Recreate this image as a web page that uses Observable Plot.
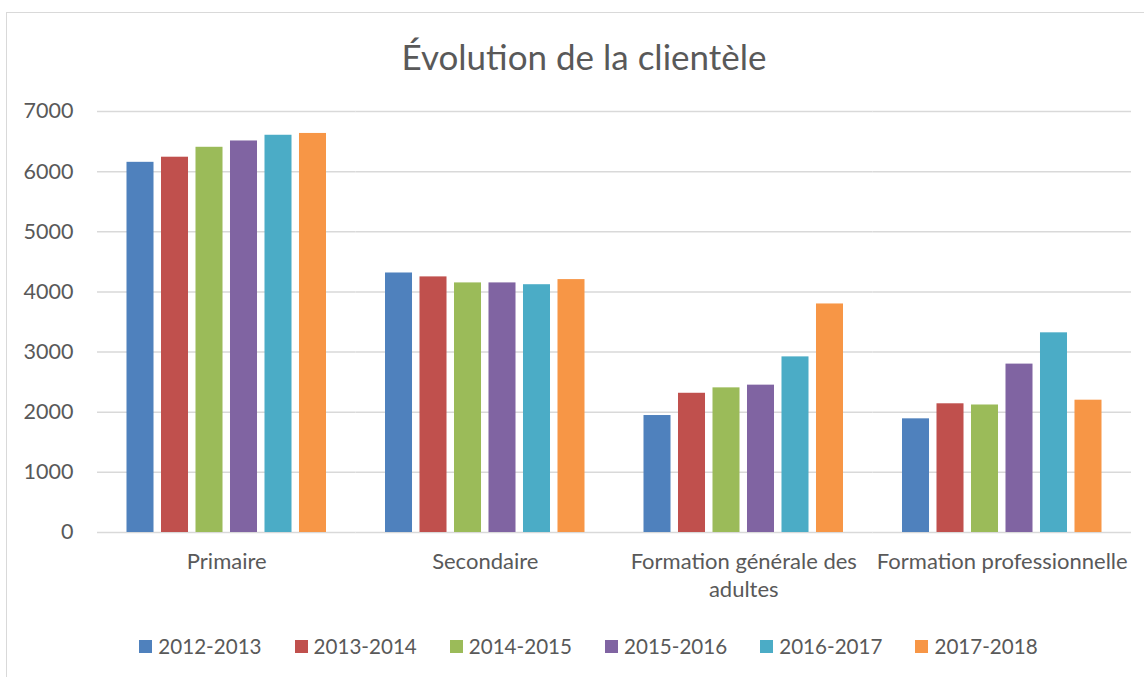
<!DOCTYPE html>
<html><head><meta charset="utf-8">
<script src="https://cdn.jsdelivr.net/npm/d3@7"></script>
<script src="https://cdn.jsdelivr.net/npm/@observablehq/plot@0.6"></script>
<style>
body{margin:0;background:#fff;font-family:Lato,"Noto Sans",sans-serif;color:#595959;width:1144px;height:677px;overflow:hidden;position:relative}
#frame{position:absolute;left:6px;top:12px;width:1200px;height:720px;border:1.5px solid #d9d9d9;box-sizing:border-box}
#title{position:absolute;left:284px;width:600px;top:34px;text-align:center;font-size:35px;line-height:44px;color:#595959}
#chart{position:absolute;left:0;top:0}
#legend{position:absolute;left:0;width:1177px;top:633px;display:flex;justify-content:center;gap:33px;font-size:20.6px;line-height:26px}
.item{display:flex;align-items:center;gap:6px}
.sw{width:13px;height:13px;display:inline-block}
</style></head>
<body>
<div id="frame"></div>
<div id="title">Évolution de la clientèle</div>
<div id="chart"></div>
<div id="legend"></div>
<script>
const categories = ["Primaire","Secondaire","Formation générale des adultes","Formation professionnelle"];
const categoryLabels = ["Primaire","Secondaire","Formation générale des\nadultes","Formation professionnelle"];
const years = ["2012-2013","2013-2014","2014-2015","2015-2016","2016-2017","2017-2018"];
const v2012_2013 = [6155, 4315, 1945, 1890];
const v2013_2014 = [6240, 4250, 2315, 2140];
const v2014_2015 = [6405, 4150, 2405, 2120];
const v2015_2016 = [6510, 4150, 2450, 2800];
const v2016_2017 = [6605, 4120, 2920, 3320];
const v2017_2018 = [6635, 4205, 3800, 2200];
const colors = ["#4F81BD","#C0504D","#9BBB59","#8064A2","#4BACC6","#F79646"];
const yTicks = [0,1000,2000,3000,4000,5000,6000,7000];

const series = [v2012_2013, v2013_2014, v2014_2015, v2015_2016, v2016_2017, v2017_2018];
const data = [];
years.forEach((yr, i) => categories.forEach((c, j) => data.push({cat: c, year: yr, value: series[i][j]})));
const labelOf = new Map(categories.map((c, i) => [c, categoryLabels[i]]));

const chart = Plot.plot({
  width: 1144, height: 620,
  marginTop: 111, marginBottom: 88, marginLeft: 97, marginRight: 13,
  style: {fontFamily: "Lato, 'Noto Sans', sans-serif", fontSize: "21px", color: "#595959", background: "transparent"},
  fx: {domain: categories, padding: 0, label: null, round: false},
  x: {domain: years, paddingInner: 0.217, paddingOuter: 0.855, axis: null, round: false},
  y: {domain: [0, 7000], label: null},
  color: {domain: years, range: colors},
  marks: [
    Plot.ruleY(yTicks, {stroke: "#d9d9d9", strokeWidth: 1.5}),
    Plot.barY(data, {fx: "cat", x: "year", y: "value", fill: "year"}),
    Plot.axisY({ticks: yTicks, tickFormat: d => String(d), tickSize: 0, tickPadding: 24, label: null, fill: "#595959", fontSize: 21.5}),
    Plot.axisFx({anchor: "bottom", tickSize: 0, tickPadding: 17, label: null, lineHeight: 1.27, fill: "#595959", fontSize: 22, tickFormat: d => labelOf.get(d)})
  ]
});
document.getElementById("chart").appendChild(chart);

const legend = document.getElementById("legend");
years.forEach((yr, i) => {
  const it = document.createElement("div"); it.className = "item";
  const sw = document.createElement("span"); sw.className = "sw"; sw.style.background = colors[i];
  const t = document.createElement("span"); t.textContent = yr;
  it.appendChild(sw); it.appendChild(t); legend.appendChild(it);
});
</script>
</body></html>
